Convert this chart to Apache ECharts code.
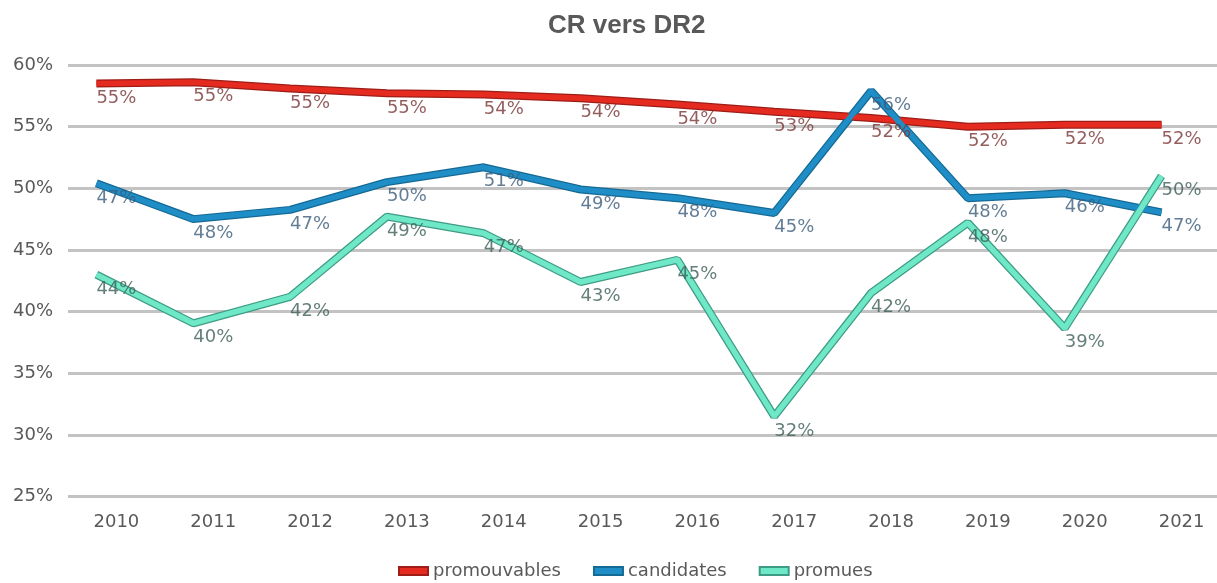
<!DOCTYPE html>
<html>
<head>
<meta charset="utf-8">
<script src="https://cdn.jsdelivr.net/npm/echarts@6/dist/echarts.min.js"></script>
<style>html,body{margin:0;padding:0;background:#fff}#c{width:1217px;height:583px}</style>
</head>
<body>
<div id="c"></div>
<script>
const years = ['2010','2011','2012','2013','2014','2015','2016','2017','2018','2019','2020','2021'];
const yTicks = [25, 30, 35, 40, 45, 50, 55, 60];
// plotted line values (%)
const promouvables = [58.5, 58.6, 58.1, 57.7, 57.6, 57.3, 56.8, 56.2, 55.7, 55.0, 55.15, 55.15];
const candidates   = [50.4, 47.5, 48.25, 50.5, 51.7, 49.9, 49.2, 48.0, 57.9, 49.2, 49.6, 48.05];
const promues      = [43.0, 39.05, 41.2, 47.7, 46.35, 42.4, 44.2, 31.5, 41.5, 47.2, 38.65, 51.0];
// data label texts (%)
const promouvablesLabels = [55, 55, 55, 55, 54, 54, 54, 53, 52, 52, 52, 52];
const candidatesLabels   = [47, 48, 47, 50, 51, 49, 48, 45, 56, 48, 46, 47];
const promuesLabels      = [44, 40, 42, 49, 47, 43, 45, 32, 42, 48, 39, 50];

const FONT = 'DejaVu Sans';
const chart = echarts.init(document.getElementById('c'), null, {renderer: 'canvas'});

function lineSeries(name, data, color, edge) {
  return [
    {
      name: name + '_edge', type: 'line', xAxisIndex: 1, yAxisIndex: 1, data: data,
      symbol: 'none', silent: true, z: 2,
      lineStyle: {color: edge, width: 8},
      itemStyle: {color: edge}
    },
    {
      name: name, type: 'line', xAxisIndex: 1, yAxisIndex: 1, data: data,
      symbol: 'none', z: 3,
      lineStyle: {color: color, width: 5.5},
      itemStyle: {color: color, borderColor: edge, borderWidth: 1}
    }
  ];
}
function labelSeries(name, data, texts, color) {
  return {
    name: name + '_labels', type: 'scatter', xAxisIndex: 0, yAxisIndex: 0, data: data,
    symbolSize: 1, silent: true, z: 5,
    itemStyle: {color: 'rgba(0,0,0,0)'},
    label: {
      show: true, position: 'bottom', distance: 5,
      fontFamily: FONT, fontSize: 18, color: color,
      formatter: p => texts[p.dataIndex] + '%'
    },
    labelLayout: {hideOverlap: false}
  };
}

const yMin = yTicks[0], yMax = yTicks[yTicks.length - 1];

chart.setOption({
  animation: false,
  backgroundColor: '#ffffff',
  title: {
    text: 'CR vers DR2', left: 543, top: 8,
    textStyle: {fontFamily: 'Liberation Sans', fontWeight: 'bold', fontSize: 26, color: '#595959'}
  },
  legend: {
    data: ['promouvables', 'candidates', 'promues'],
    left: 398, top: 562, padding: 0, icon: 'rect', itemWidth: 29, itemHeight: 8, itemGap: 32,
    textStyle: {fontFamily: FONT, fontSize: 18, color: '#595959'}
  },
  grid: [
    {left: 68, right: -13, top: 65, bottom: 86.5, containLabel: false, outerBoundsMode: 'none'},
    {left: 48, right: 7, top: 65, bottom: 86.5, containLabel: false, outerBoundsMode: 'none'}
  ],
  xAxis: [
    {
      type: 'category', gridIndex: 0, data: years, boundaryGap: true,
      axisLine: {show: false}, axisTick: {show: false},
      axisLabel: {fontFamily: FONT, fontSize: 18, color: '#595959', margin: 17}
    },
    {
      type: 'category', gridIndex: 1, data: years, boundaryGap: true, show: false
    }
  ],
  yAxis: [
    {
      type: 'value', gridIndex: 0, min: yMin, max: yMax, interval: 5,
      axisLine: {show: false}, axisTick: {show: false},
      axisLabel: {fontFamily: FONT, fontSize: 18, color: '#595959', margin: 15, formatter: '{value}%'},
      splitLine: {show: true, lineStyle: {color: '#c3c3c3', width: 3}}
    },
    {
      type: 'value', gridIndex: 1, min: yMin, max: yMax, interval: 5, show: false,
      splitLine: {show: false}
    }
  ],
  series: [
    ...lineSeries('promouvables', promouvables, '#e52a20', '#9e1d16'),
    ...lineSeries('candidates', candidates, '#1f8dc6', '#156a95'),
    ...lineSeries('promues', promues, '#6ee8c6', '#3f9c84'),
    labelSeries('promouvables', promouvables, promouvablesLabels, '#7b3636'),
    labelSeries('candidates', candidates, candidatesLabels, '#3c5d7a'),
    labelSeries('promues', promues, promuesLabels, '#3d5f59')
  ]
});
</script>
</body>
</html>
